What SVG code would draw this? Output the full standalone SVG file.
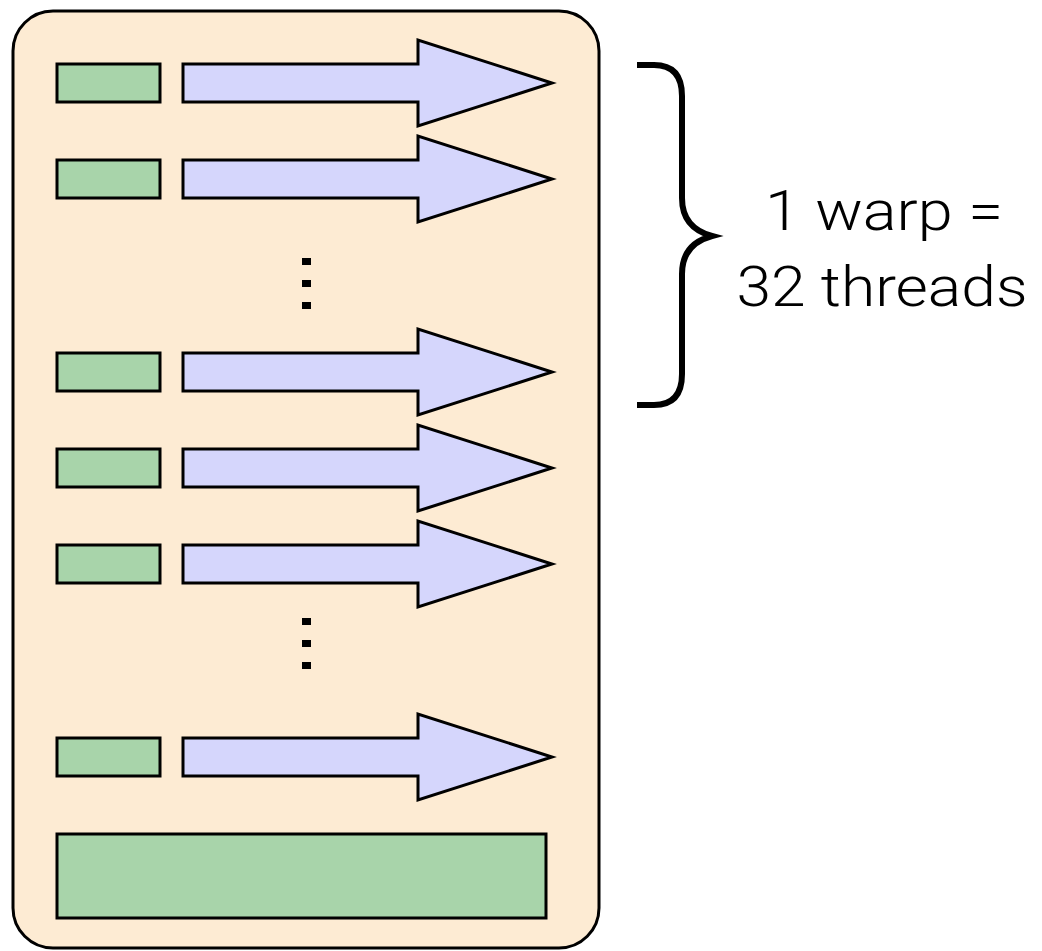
<svg xmlns="http://www.w3.org/2000/svg" width="1042" height="951" viewBox="0 0 1042 951">
  <style>
    .block { fill: #fdebd3; stroke: #000; stroke-width: 3; }
    .reg { fill: #a8d4aa; stroke: #000; stroke-width: 3; }
    .thread { fill: #d5d6fc; stroke: #000; stroke-width: 3; stroke-linejoin: miter; }
    .dot { fill: #000; }
    .brace { fill: none; stroke: #000; stroke-width: 6; stroke-linecap: butt; }
    .label { font-family: Roboto, "Liberation Sans", sans-serif; font-weight: 300; font-size: 56px; fill: #000; text-anchor: middle; }
  </style>
  <defs>
    <polygon id="arrow" class="thread" points="183,-19 418,-19 418,-43 552,0 418,43 418,19 183,19"/>
    <rect id="cell" class="reg" x="57" y="-19" width="103" height="38"/>
  </defs>

  <!-- streaming multiprocessor block -->
  <g id="block">
    <rect class="block" x="13" y="11" width="586" height="937" rx="40" ry="40"/>
  </g>

  <!-- threads: register cell + execution arrow -->
  <g id="thread1" transform="translate(0,83)"><use href="#cell"/><use href="#arrow"/></g>
  <g id="thread2" transform="translate(0,179)"><use href="#cell"/><use href="#arrow"/></g>
  <g id="thread3" transform="translate(0,372)"><use href="#cell"/><use href="#arrow"/></g>
  <g id="thread4" transform="translate(0,468)"><use href="#cell"/><use href="#arrow"/></g>
  <g id="thread5" transform="translate(0,564)"><use href="#cell"/><use href="#arrow"/></g>
  <g id="thread6" transform="translate(0,757)"><use href="#cell"/><use href="#arrow"/></g>

  <!-- vertical ellipses -->
  <g id="ellipsis1">
    <rect class="dot" x="302" y="258" width="9" height="7"/>
    <rect class="dot" x="302" y="280" width="9" height="7"/>
    <rect class="dot" x="302" y="302" width="9" height="7"/>
  </g>
  <g id="ellipsis2">
    <rect class="dot" x="302" y="618" width="9" height="7"/>
    <rect class="dot" x="302" y="640" width="9" height="7"/>
    <rect class="dot" x="302" y="662" width="9" height="7"/>
  </g>

  <!-- shared memory -->
  <g id="shared">
    <rect class="reg" x="57" y="834" width="489" height="84"/>
  </g>

  <!-- warp brace and label -->
  <g id="warp">
    <path class="brace" d="M637,65 H654 Q682,65 682,96 V198 Q682,228 712,236 Q682,244 682,274 V374 Q682,405 654,405 H637"/>
    <text class="label" x="884" y="230" textLength="238" lengthAdjust="spacingAndGlyphs">1 warp =</text>
    <text class="label" x="882" y="306" textLength="291" lengthAdjust="spacingAndGlyphs">32 threads</text>
  </g>
</svg>
